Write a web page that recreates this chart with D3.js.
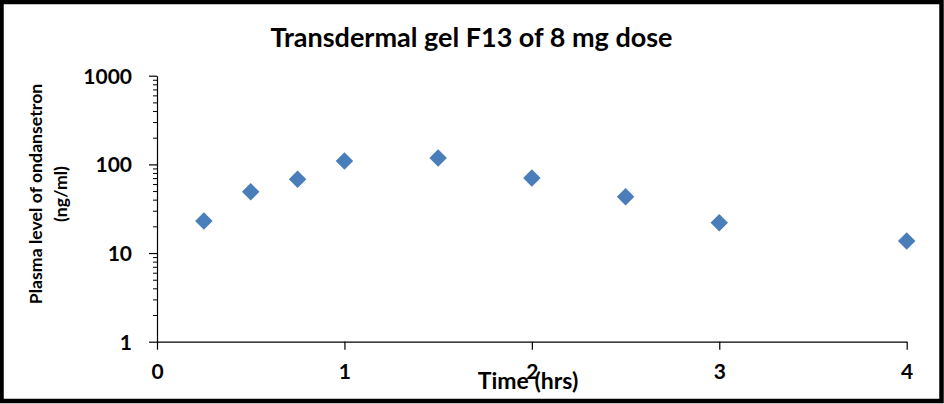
<!DOCTYPE html>
<html>
<head>
<meta charset="utf-8">
<script src="https://cdn.jsdelivr.net/npm/d3@7"></script>
<style>
  body { margin: 0; background: #fff; }
  svg text { font-family: Lato, "Open Sans", sans-serif; font-weight: bold; fill: #000; }
</style>
</head>
<body>
<div id="chart"></div>
<script>
// Data
const times = [0.25, 0.5, 0.75, 1, 1.5, 2, 2.5, 3, 4];
const plasma = [23, 49, 68, 109, 118, 70, 43, 22, 13.7];
const xTicks = [0, 1, 2, 3, 4];
const yTicks = [1, 10, 100, 1000];

const width = 944;
const height = 404;

const svg = d3.select("#chart")
    .append("svg")
    .attr("width", width)
    .attr("height", height);

// Outer frame
svg.append("rect")
    .attr("x", 1.5).attr("y", 2)
    .attr("width", 940).attr("height", 399)
    .attr("fill", "#fff")
    .attr("stroke", "#000")
    .attr("stroke-width", 4.5);

// Scales
const xScale = d3.scaleLinear().domain([0, 4]).range([157, 906.7]);
const yScale = d3.scaleLog().domain([1, 1000]).range([341.7, 75.7]);

// Title
svg.append("text")
    .attr("x", 471.5)
    .attr("y", 47)
    .attr("text-anchor", "middle")
    .style("font-size", "27px")
    .text("Transdermal gel F13 of 8 mg dose");

// Y axis (log) with minor ticks
const minorTicks = [];
[1, 10, 100].forEach(d => { for (let k = 2; k <= 9; k++) minorTicks.push(d * k); });

const yAxisG = svg.append("g")
    .attr("transform", `translate(${xScale(0)},0)`);

yAxisG.call(d3.axisLeft(yScale).tickValues(minorTicks).tickSize(4).tickFormat(""))
    .call(g => g.select(".domain").remove());

yAxisG.append("g")
    .call(d3.axisLeft(yScale).tickValues(yTicks).tickSize(8).tickSizeOuter(0).tickFormat(d3.format("d")).tickPadding(17))
    .call(g => g.selectAll("text").style("font-size", "21px").attr("dy", "0.35em"))
    .call(g => g.selectAll("line,path").attr("stroke", "#000").attr("stroke-width", 1.2));

yAxisG.selectAll("line").attr("stroke", "#000");

// X axis
svg.append("g")
    .attr("transform", `translate(0,${yScale(1)})`)
    .call(d3.axisBottom(xScale).tickValues(xTicks).tickSize(8).tickSizeOuter(0).tickPadding(14).tickFormat(d3.format("d")))
    .call(g => g.selectAll("text").style("font-size", "21px"))
    .call(g => g.selectAll("line,path").attr("stroke", "#000").attr("stroke-width", 1.2));

// Axis titles
svg.append("text")
    .attr("x", 528)
    .attr("y", 389)
    .attr("text-anchor", "middle")
    .style("font-size", "23px")
    .text("Time (hrs)");

const yLabel = svg.append("text")
    .attr("transform", "translate(42,194) rotate(-90)")
    .attr("text-anchor", "middle")
    .style("font-size", "17.7px");
yLabel.append("tspan").attr("x", 0).attr("y", 0).text("Plasma level of ondansetron");
yLabel.append("tspan").attr("x", 0).attr("y", 25).text("(ng/ml)");

// Points
const diamond = d3.symbol().type(d3.symbolSquare).size(153);
svg.selectAll(".pt")
    .data(times.map((t, i) => ({ t, v: plasma[i] })))
    .enter()
    .append("path")
    .attr("class", "pt")
    .attr("d", diamond)
    .attr("transform", d => `translate(${xScale(d.t)},${yScale(d.v)}) rotate(45)`)
    .attr("fill", "#4A7EBB");
</script>
</body>
</html>
